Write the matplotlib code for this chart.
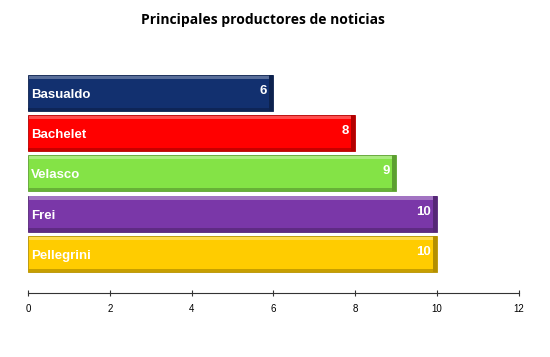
import matplotlib
matplotlib.use("Agg")
import matplotlib.pyplot as plt
from matplotlib.colors import to_rgb
import numpy as np

# Data (top to bottom)
names = ["Basualdo", "Bachelet", "Velasco", "Frei", "Pellegrini"]
values = [6, 8, 9, 10, 10]
colors = ["#12306F", "#FF0000", "#84E346", "#7A37A8", "#FFCC00"]
x_ticks = [0, 2, 4, 6, 8, 10, 12]
title = "Principales productores de noticias"


def shade(c, f):
    r = np.array(to_rgb(c))
    if f >= 0:
        return tuple(r + (1 - r) * f)
    return tuple(r * (1 + f))


fig = plt.figure(figsize=(5.5, 3.57), dpi=100)
ax = fig.add_axes([0.0509, 0.1793, 0.8927, 0.625])

n = len(names)
ypos = np.arange(n)[::-1]
h = 0.9

for y, v, c, name in zip(ypos, values, colors, names):
    # main body
    ax.barh(y, v, height=h, color=c, edgecolor=shade(c, -0.3), linewidth=0.6, zorder=2)
    # bevel: light top strip, dark bottom strip, dark right strip
    ax.barh(y + h / 2 - 0.06, v - 0.05, height=0.08, left=0.02,
            color=shade(c, 0.3), linewidth=0, zorder=3)
    ax.barh(y - h / 2 + 0.045, v, height=0.08, color=shade(c, -0.22), linewidth=0, zorder=3)
    ax.barh(y, 0.1, left=v - 0.1, height=h, color=shade(c, -0.3), linewidth=0, zorder=3)
    ax.text(0.08, y - 0.05, name, color="white", fontsize=9.5, fontweight="bold",
            family="Liberation Sans", va="center", ha="left", zorder=4)
    ax.text(v - 0.16, y + 0.05, f"{v}", color="white", fontsize=9.5, fontweight="bold",
            family="Liberation Sans", va="center", ha="right", zorder=4)

ax.set_xlim(0, 12)
ax.set_ylim(-0.97, 4.57)
ax.set_xticks(x_ticks)
ax.set_xticklabels([str(t) for t in x_ticks], fontsize=7, family="Liberation Sans")
ax.set_yticks([])
for s in ["top", "right", "left"]:
    ax.spines[s].set_visible(False)
ax.spines["bottom"].set_color("#333333")
ax.spines["bottom"].set_linewidth(0.8)
ax.tick_params(axis="x", direction="inout", length=4, width=0.8, color="#333333", pad=6)

fig.text(0.478, 0.944, title, ha="center", va="center", fontsize=10,
         fontweight="bold", family="Open Sans")

fig.savefig("out.png", dpi=100)
